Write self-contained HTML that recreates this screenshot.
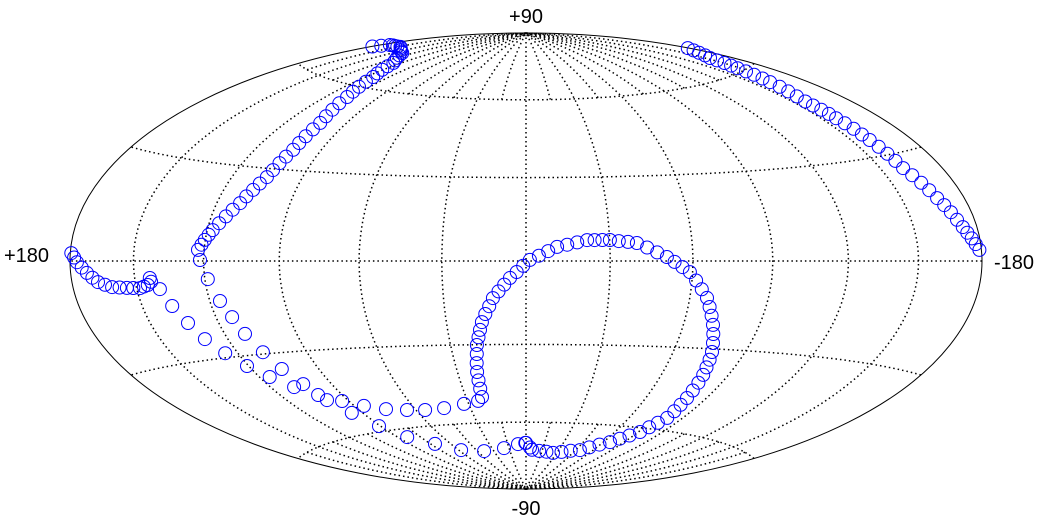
<!DOCTYPE html>
<html><head><meta charset="utf-8">
<style>
html,body{margin:0;padding:0;background:#fff;}
svg{display:block;}
text{font-family:"Liberation Sans",Arial,sans-serif;font-size:20px;fill:#000;}
</style></head>
<body>
<svg id="chart" width="1049" height="527" viewBox="0 0 1049 527" xmlns="http://www.w3.org/2000/svg">
  <g id="grid"></g>
  <ellipse cx="526" cy="261" rx="456" ry="228" fill="none" stroke="#000" stroke-width="1"/>
  <g id="marks"></g>
  <text x="526" y="23" text-anchor="middle">+90</text>
  <text x="526" y="515" text-anchor="middle">-90</text>
  <text x="4" y="262">+180</text>
  <text x="994" y="269">-180</text>
</svg>
<script>
// Graticule values
const meridians = [-150,-120,-90,-60,-30,0,30,60,90,120,150];
const polarMeridians = [-165,-135,-105,-75,-45,-15,15,45,75,105,135,165];
const parallels = [-60,-30,0,30,60];

// Track A (upper left diagonal)
const lonA = [122.5,121.3,120.2,119,117.8,115.9,114,112.2,110.3,109,107.6,106.3,105,104.4,103.8,103.2,102.6,102.7,102.8,102.9,103,104.2,105.5,106.8,108,109.8,111.6,113.5,115.3,117.9,120.6,123.2,125.8,130,134.6,139,143.4,148,153,158,163,166,169,172,175,177,179.5];
const latA = [3.4,5,6.5,8.1,9.6,11.8,14,16.2,18.4,20.6,22.8,25,27.2,29.6,32,34.3,36.7,39.1,41.5,44,46.4,48.8,51.2,53.6,56,58,59.9,61.9,63.8,65.2,66.6,68,69.4,70.2,71,71.8,72.6,72.8,73,73.3,73.5,73.2,73,72.8,72.5,71.4,70.3];

// Track B (upper right)
const lonB = [-179.5,-176.5,-173.6,-170.7,-167.8,-166.7,-165.7,-164.6,-163.6,-162.8,-162,-161.1,-160.3,-159.4,-158.4,-157.4,-156.5,-156.7,-157,-157.3,-157.5,-157.9,-158.3,-158.6,-159,-159.4,-159.9,-160.3,-160.8,-162.3,-163.8,-165.2,-166.7,-168.3,-169.9,-171.4,-173,-174.5,-176,-177.5,-179];
const latB = [69.2,68.3,67.4,66.4,65.5,64.4,63.2,62.1,61,59.6,58.2,56.7,55.3,53.5,51.8,50,48.2,46.7,45.1,43.6,42.1,40.3,38.4,36.5,34.7,32.5,30.3,28.1,25.9,23.7,21.4,19.2,16.9,14.9,12.9,10.8,8.8,7.3,5.8,4.3,2.8];

// Track C (left edge hook)
const lonC = [179.5,178,176.6,174.3,172,169.6,167.3,164.2,161.1,157.7,154.4,151.5,148.5,146.6,144.7,143.3,143];
const latC = [2,0.9,-0.3,-1.7,-3.1,-4.4,-5.6,-6.4,-7.1,-7.3,-7.5,-7.6,-7.7,-7.3,-6.9,-4.9,-6];

// Sparse series (two interleaved rows)
const lonS1 = [121.5,118.8,115.8,113.3,111.4,108.8,106.4,103.2,100.2,85.1,75.4,64.8,55.1,44.2,32.5,24.6];
const latS1 = [0.3,-5.6,-12.5,-17.7,-23.2,-29.4,-35.3,-40.9,-47,-50.4,-52.3,-53.3,-53.8,-53.5,-52.2,-51.2];
const lonS2 = [139.8,136.7,133.2,130,125.6,120.8,115.3,108.9,101.7,93.3,95.8,90.9,83.8,71.8,58,38.9,19.4,6.6,0];
const latS2 = [-8.2,-13.3,-18.6,-23.8,-28.6,-33.2,-37.4,-41.5,-45,-47.9,-52.3,-58,-63.2,-67,-70.5,-71.7,-70.8,-69.2,-68.7];

// Loop
const lonL = [22,21.8,21.6,21.4,20.8,20.1,19.5,18.5,17.6,16.6,15.1,13.5,12,9.9,7.8,5.7,3.3,1,-1.4,-4.6,-7.9,-11.1,-14.7,-18.3,-21.9,-24.6,-27.4,-30.1,-33.3,-36.6,-39.8,-43.4,-47,-50.5,-53.3,-56.2,-59,-61.5,-64,-66.5,-68.2,-69.9,-71.6,-73.1,-74.6,-76.1,-77,-77.8,-78.7,-79.3,-79.8,-80.4,-80.7,-81.1,-81.4,-79.6,-77.9,-76.1,-72.3,-68.6,-64.8,-59.4,-54,-48.6,-41.2,-33.7,-26.3,-19.4,-12.4,-5.5,-3.5,0.6];
const latL = [-49.7,-46.5,-43.3,-40.1,-36.8,-33.4,-30.1,-27.3,-24.6,-21.8,-18.9,-16.1,-13.2,-10.8,-8.4,-6,-3.9,-1.7,0.4,1.9,3.5,5,5.8,6.6,7.4,7.4,7.4,7.4,7,6.7,6.3,4.7,3,1.4,-0.3,-2.1,-3.8,-6.7,-9.7,-12.6,-15.7,-18.7,-21.8,-24.9,-28,-31.1,-33.8,-36.5,-39.2,-42,-44.9,-47.7,-50.3,-52.8,-55.4,-57.5,-59.5,-61.6,-63.3,-64.9,-66.6,-68,-69.5,-70.9,-71.5,-72.2,-72.8,-72.4,-72.1,-71.7,-70.7,-68.7];

const CX = 526, CY = 261, S = 161.2, R = 6.5;
const NS = 'http://www.w3.org/2000/svg';
function proj(lon, lat) {
  const l = lon * Math.PI / 180, p = lat * Math.PI / 180;
  const d = Math.sqrt(1 + Math.cos(p) * Math.cos(l / 2));
  const x = 2 * Math.SQRT2 * Math.cos(p) * Math.sin(l / 2) / d;
  const y = Math.SQRT2 * Math.sin(p) / d;
  return [CX - S * x, CY - S * y];
}
function line(pts) {
  return pts.map((q, i) => (i ? 'L' : 'M') + q[0].toFixed(1) + ' ' + q[1].toFixed(1)).join('');
}
const grid = document.getElementById('grid');
function addPath(d, name) {
  const el = document.createElementNS(NS, 'path');
  el.setAttribute('d', d);
  el.setAttribute('fill', 'none');
  el.setAttribute('stroke', '#000');
  el.setAttribute('stroke-width', '1.5');
  el.setAttribute('stroke-dasharray', '1.5 3');
  
  
  grid.appendChild(el);
}
meridians.forEach(m => {
  const pts = [];
  for (let la = -90; la <= 90; la += 1) pts.push(proj(m, la));
  addPath(line(pts), 'meridian-line');
});
polarMeridians.forEach(m => {
  const n = [], s = [];
  for (let la = 60; la <= 90; la += 1) { n.push(proj(m, la)); s.push(proj(m, -la)); }
  addPath(line(n), 'polar-meridian-line');
  addPath(line(s), 'polar-meridian-line');
});
parallels.forEach(p => {
  const pts = [];
  for (let lo = -180; lo <= 180; lo += 2) pts.push(proj(lo, p));
  addPath(line(pts), 'parallel-line');
});

const marks = document.getElementById('marks');
function drawSeries(lons, lats, name) {
  for (let i = 0; i < lons.length; i++) {
    const q = proj(lons[i], lats[i]);
    const c = document.createElementNS(NS, 'circle');
    c.setAttribute('cx', q[0].toFixed(1));
    c.setAttribute('cy', q[1].toFixed(1));
    c.setAttribute('r', R);
    c.setAttribute('fill', 'none');
    c.setAttribute('stroke', '#0000ff');
    c.setAttribute('stroke-width', '1');
    
    
    marks.appendChild(c);
  }
}
drawSeries(lonA, latA, 'track-a-point');
drawSeries(lonB, latB, 'track-b-point');
drawSeries(lonC, latC, 'track-c-point');
drawSeries(lonS1, latS1, 'sparse-row1-point');
drawSeries(lonS2, latS2, 'sparse-row2-point');
drawSeries(lonL, latL, 'loop-point');
</script>
</body></html>
